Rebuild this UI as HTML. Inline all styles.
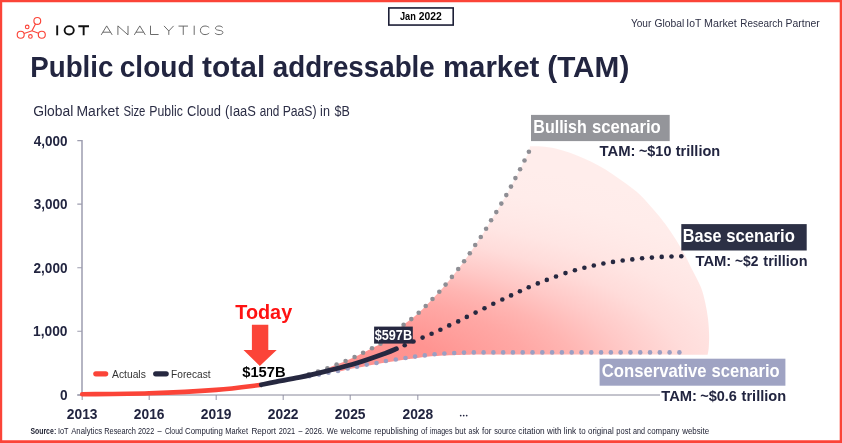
<!DOCTYPE html>
<html><head><meta charset="utf-8"><title>Public cloud TAM</title>
<style>
html,body{margin:0;padding:0;background:#fff;}
body{width:842px;height:443px;overflow:hidden;font-family:"Liberation Sans",sans-serif;}
svg{display:block;will-change:transform;}
text{font-family:"Liberation Sans",sans-serif;}
.b{font-weight:bold;}
</style></head><body>
<svg width="842" height="443" viewBox="0 0 842 443">
<defs>
<radialGradient id="fan" gradientUnits="userSpaceOnUse" cx="0" cy="0" r="1" gradientTransform="translate(310 378) scale(588 225)">
<stop offset="0.000" stop-color="#ff918e"/>
<stop offset="0.238" stop-color="#ff9491"/>
<stop offset="0.309" stop-color="#ff9e9b"/>
<stop offset="0.386" stop-color="#ffa8a5"/>
<stop offset="0.458" stop-color="#ffb5b2"/>
<stop offset="0.547" stop-color="#ffc9c7"/>
<stop offset="0.646" stop-color="#ffdcda"/>
<stop offset="0.684" stop-color="#ffe0de"/>
<stop offset="0.730" stop-color="#ffe5e3"/>
<stop offset="0.800" stop-color="#ffe9e7"/>
<stop offset="0.880" stop-color="#ffecea"/>
<stop offset="1.000" stop-color="#ffedeb"/>
</radialGradient>
</defs>
<rect x="0" y="0" width="842" height="443" fill="#fff"/>
<!-- fan -->
<path d="M324.00,369.80 C326.10,368.93 333.00,366.07 336.60,364.60 C340.20,363.13 342.60,362.27 345.60,361.00 C348.60,359.73 351.68,358.37 354.60,357.00 C357.52,355.63 360.20,354.27 363.10,352.80 C366.00,351.33 369.10,349.70 372.00,348.20 C374.90,346.70 377.78,345.60 380.50,343.80 C383.22,342.00 385.72,339.57 388.30,337.40 C390.88,335.23 393.45,332.90 396.00,330.80 C398.55,328.70 401.05,326.75 403.60,324.80 C406.15,322.85 408.78,321.10 411.30,319.10 C413.82,317.10 416.30,314.98 418.70,312.80 C421.10,310.62 423.40,308.30 425.70,306.00 C428.00,303.70 430.23,301.37 432.50,299.00 C434.77,296.63 437.12,294.20 439.30,291.80 C441.48,289.40 443.50,287.08 445.60,284.60 C447.70,282.12 449.80,279.50 451.90,276.90 C454.00,274.30 456.17,271.62 458.20,269.00 C460.23,266.38 462.17,263.82 464.10,261.20 C466.03,258.58 467.95,256.00 469.80,253.30 C471.65,250.60 473.37,247.72 475.20,245.00 C477.03,242.28 478.98,239.70 480.80,237.00 C482.62,234.30 484.38,231.58 486.10,228.80 C487.82,226.02 489.40,223.08 491.10,220.30 C492.80,217.52 494.60,214.88 496.30,212.10 C498.00,209.32 499.63,206.43 501.30,203.60 C502.97,200.77 504.68,197.93 506.30,195.10 C507.92,192.27 509.48,189.43 511.00,186.60 C512.52,183.77 513.88,180.98 515.40,178.10 C516.92,175.22 518.58,172.23 520.10,169.30 C521.62,166.37 523.03,163.43 524.50,160.50 C525.97,157.57 527.98,154.07 528.90,151.70 C529.82,149.33 529.82,147.20 530.00,146.30 L530,146.3 C531.90,146.32 537.13,146.03 541.40,146.40 C545.67,146.77 550.85,147.43 555.60,148.50 C560.35,149.57 565.15,151.13 569.90,152.80 C574.65,154.47 579.35,156.37 584.10,158.50 C588.85,160.63 593.65,162.98 598.40,165.60 C603.15,168.22 607.85,171.10 612.60,174.20 C617.35,177.30 622.33,180.77 626.90,184.20 C631.47,187.63 635.50,190.50 640.00,194.80 C644.50,199.10 649.72,205.17 653.90,210.00 C658.08,214.83 661.35,218.72 665.10,223.80 C668.85,228.88 673.00,235.08 676.40,240.50 C679.80,245.92 682.87,251.42 685.50,256.30 C688.13,261.18 689.65,264.67 692.20,269.80 C694.75,274.93 698.62,281.58 700.80,287.10 C702.98,292.62 704.10,297.63 705.30,302.90 C706.50,308.17 707.37,313.43 708.00,318.70 C708.63,323.97 708.98,329.62 709.10,334.50 C709.22,339.38 708.95,344.62 708.70,348.00 C708.45,351.38 707.78,353.67 707.60,354.80 C689.58,354.77 634.58,354.63 600.00,354.60 C565.42,354.57 523.33,354.55 500.00,354.60 C476.67,354.65 470.95,354.67 460.00,354.90 C449.05,355.13 441.78,355.45 434.30,356.00 C426.82,356.55 419.90,357.62 415.10,358.20 C410.30,358.78 408.72,359.03 405.50,359.50 C402.28,359.97 399.07,360.48 395.80,361.00 C392.53,361.52 389.12,362.05 385.90,362.60 C382.68,363.15 379.70,363.73 376.50,364.30 C373.30,364.87 369.95,365.42 366.70,366.00 C363.45,366.58 360.17,367.22 357.00,367.80 C353.83,368.38 350.87,368.88 347.70,369.50 C344.53,370.12 341.62,371.37 338.00,371.50 C334.38,371.63 328.00,370.50 326.00,370.30 Z" fill="url(#fan)"/>
<!-- axes -->
<g stroke="#9d9daf" stroke-width="1.5" fill="none">
<path d="M82,140 V395"/>
</g>
<g stroke="#9d9daf" stroke-width="1.1" fill="none">
<path d="M77.3,140.6 H82 M77.3,204.1 H82 M77.3,267.7 H82 M77.3,331.2 H82 M77.3,395 H82"/>
<path d="M82.2,395 V400 M149.2,395 V400 M216.2,395 V400 M283.2,395 V400 M350.2,395 V400 M417.8,395 V400"/>
</g>
<path d="M77.3,395 H700" stroke="#88889a" stroke-width="1" fill="none"/>
<!-- dotted curves -->
<circle cx="309.30" cy="376.30" r="2.3" fill="#9a9fc3"/>
<circle cx="319.00" cy="374.60" r="2.3" fill="#9a9fc3"/>
<circle cx="328.50" cy="372.80" r="2.3" fill="#9a9fc3"/>
<circle cx="338.00" cy="370.90" r="2.3" fill="#9a9fc3"/>
<circle cx="347.70" cy="368.50" r="2.3" fill="#9a9fc3"/>
<circle cx="357.00" cy="366.80" r="2.3" fill="#9a9fc3"/>
<circle cx="366.70" cy="364.60" r="2.3" fill="#9a9fc3"/>
<circle cx="376.50" cy="363.00" r="2.3" fill="#9a9fc3"/>
<circle cx="385.90" cy="361.00" r="2.3" fill="#9a9fc3"/>
<circle cx="395.80" cy="359.50" r="2.3" fill="#9a9fc3"/>
<circle cx="405.50" cy="358.00" r="2.3" fill="#9a9fc3"/>
<circle cx="415.10" cy="356.60" r="2.3" fill="#9a9fc3"/>
<circle cx="424.80" cy="355.40" r="2.3" fill="#9a9fc3"/>
<circle cx="434.60" cy="354.20" r="2.3" fill="#9a9fc3"/>
<circle cx="444.40" cy="353.50" r="2.3" fill="#9a9fc3"/>
<circle cx="454.20" cy="353.00" r="2.3" fill="#9a9fc3"/>
<circle cx="464.00" cy="352.60" r="2.3" fill="#9a9fc3"/>
<circle cx="473.80" cy="352.40" r="2.3" fill="#9a9fc3"/>
<circle cx="483.59" cy="352.40" r="2.3" fill="#9a9fc3"/>
<circle cx="493.38" cy="352.40" r="2.3" fill="#9a9fc3"/>
<circle cx="503.17" cy="352.40" r="2.3" fill="#9a9fc3"/>
<circle cx="512.96" cy="352.40" r="2.3" fill="#9a9fc3"/>
<circle cx="522.75" cy="352.40" r="2.3" fill="#9a9fc3"/>
<circle cx="532.54" cy="352.40" r="2.3" fill="#9a9fc3"/>
<circle cx="542.33" cy="352.40" r="2.3" fill="#9a9fc3"/>
<circle cx="552.12" cy="352.40" r="2.3" fill="#9a9fc3"/>
<circle cx="561.91" cy="352.40" r="2.3" fill="#9a9fc3"/>
<circle cx="571.70" cy="352.40" r="2.3" fill="#9a9fc3"/>
<circle cx="581.49" cy="352.40" r="2.3" fill="#9a9fc3"/>
<circle cx="591.28" cy="352.40" r="2.3" fill="#9a9fc3"/>
<circle cx="601.07" cy="352.40" r="2.3" fill="#9a9fc3"/>
<circle cx="610.86" cy="352.40" r="2.3" fill="#9a9fc3"/>
<circle cx="620.65" cy="352.40" r="2.3" fill="#9a9fc3"/>
<circle cx="630.44" cy="352.40" r="2.3" fill="#9a9fc3"/>
<circle cx="640.23" cy="352.40" r="2.3" fill="#9a9fc3"/>
<circle cx="650.02" cy="352.40" r="2.3" fill="#9a9fc3"/>
<circle cx="659.81" cy="352.40" r="2.3" fill="#9a9fc3"/>
<circle cx="669.60" cy="352.40" r="2.3" fill="#9a9fc3"/>
<circle cx="679.39" cy="352.40" r="2.3" fill="#9a9fc3"/>
<circle cx="528.90" cy="151.70" r="2.3" fill="#8e8e94"/>
<circle cx="524.50" cy="160.50" r="2.3" fill="#8e8e94"/>
<circle cx="520.10" cy="169.30" r="2.3" fill="#8e8e94"/>
<circle cx="515.40" cy="178.10" r="2.3" fill="#8e8e94"/>
<circle cx="511.00" cy="186.60" r="2.3" fill="#8e8e94"/>
<circle cx="506.30" cy="195.10" r="2.3" fill="#8e8e94"/>
<circle cx="501.30" cy="203.60" r="2.3" fill="#8e8e94"/>
<circle cx="496.30" cy="212.10" r="2.3" fill="#8e8e94"/>
<circle cx="491.10" cy="220.30" r="2.3" fill="#8e8e94"/>
<circle cx="486.10" cy="228.80" r="2.3" fill="#8e8e94"/>
<circle cx="480.80" cy="237.00" r="2.3" fill="#8e8e94"/>
<circle cx="475.20" cy="245.00" r="2.3" fill="#8e8e94"/>
<circle cx="469.80" cy="253.30" r="2.3" fill="#8e8e94"/>
<circle cx="464.10" cy="261.20" r="2.3" fill="#8e8e94"/>
<circle cx="458.20" cy="269.00" r="2.3" fill="#8e8e94"/>
<circle cx="451.90" cy="276.90" r="2.3" fill="#8e8e94"/>
<circle cx="445.60" cy="284.60" r="2.3" fill="#8e8e94"/>
<circle cx="439.30" cy="291.80" r="2.3" fill="#8e8e94"/>
<circle cx="432.50" cy="299.00" r="2.3" fill="#8e8e94"/>
<circle cx="425.70" cy="306.00" r="2.3" fill="#8e8e94"/>
<circle cx="418.70" cy="312.80" r="2.3" fill="#8e8e94"/>
<circle cx="411.30" cy="319.10" r="2.3" fill="#8e8e94"/>
<circle cx="403.60" cy="324.80" r="2.3" fill="#8e8e94"/>
<circle cx="396.00" cy="330.80" r="2.3" fill="#8e8e94"/>
<circle cx="388.30" cy="337.40" r="2.3" fill="#8e8e94"/>
<circle cx="380.50" cy="343.80" r="2.3" fill="#8e8e94"/>
<circle cx="372.00" cy="348.20" r="2.3" fill="#8e8e94"/>
<circle cx="363.10" cy="352.80" r="2.3" fill="#8e8e94"/>
<circle cx="354.60" cy="357.00" r="2.3" fill="#8e8e94"/>
<circle cx="345.60" cy="361.00" r="2.3" fill="#8e8e94"/>
<circle cx="336.60" cy="364.60" r="2.3" fill="#8e8e94"/>
<circle cx="327.40" cy="368.20" r="2.3" fill="#8e8e94"/>
<circle cx="318.00" cy="371.60" r="2.3" fill="#8e8e94"/>
<circle cx="308.80" cy="374.40" r="2.3" fill="#8e8e94"/>
<circle cx="404.70" cy="345.30" r="2.3" fill="#262840"/>
<circle cx="413.50" cy="341.50" r="2.3" fill="#262840"/>
<circle cx="422.60" cy="337.60" r="2.3" fill="#262840"/>
<circle cx="431.60" cy="333.80" r="2.3" fill="#262840"/>
<circle cx="440.40" cy="329.70" r="2.3" fill="#262840"/>
<circle cx="449.20" cy="325.40" r="2.3" fill="#262840"/>
<circle cx="458.20" cy="321.40" r="2.3" fill="#262840"/>
<circle cx="466.80" cy="316.90" r="2.3" fill="#262840"/>
<circle cx="475.60" cy="312.60" r="2.3" fill="#262840"/>
<circle cx="484.50" cy="308.30" r="2.3" fill="#262840"/>
<circle cx="493.30" cy="303.80" r="2.3" fill="#262840"/>
<circle cx="502.30" cy="299.50" r="2.3" fill="#262840"/>
<circle cx="511.10" cy="295.40" r="2.3" fill="#262840"/>
<circle cx="519.90" cy="291.30" r="2.3" fill="#262840"/>
<circle cx="528.70" cy="287.30" r="2.3" fill="#262840"/>
<circle cx="537.80" cy="283.40" r="2.3" fill="#262840"/>
<circle cx="546.80" cy="279.90" r="2.3" fill="#262840"/>
<circle cx="556.00" cy="276.50" r="2.3" fill="#262840"/>
<circle cx="565.50" cy="273.10" r="2.3" fill="#262840"/>
<circle cx="574.90" cy="270.30" r="2.3" fill="#262840"/>
<circle cx="584.40" cy="267.80" r="2.3" fill="#262840"/>
<circle cx="593.80" cy="265.50" r="2.3" fill="#262840"/>
<circle cx="603.40" cy="263.50" r="2.3" fill="#262840"/>
<circle cx="613.00" cy="261.90" r="2.3" fill="#262840"/>
<circle cx="622.70" cy="260.50" r="2.3" fill="#262840"/>
<circle cx="632.30" cy="259.40" r="2.3" fill="#262840"/>
<circle cx="642.10" cy="258.30" r="2.3" fill="#262840"/>
<circle cx="651.90" cy="257.60" r="2.3" fill="#262840"/>
<circle cx="661.70" cy="256.90" r="2.3" fill="#262840"/>
<circle cx="671.50" cy="256.50" r="2.3" fill="#262840"/>
<circle cx="681.30" cy="256.20" r="2.3" fill="#262840"/>
<!-- solid curves -->
<path d="M82.20,394.30 C93.37,394.13 126.87,394.03 149.20,393.30 C171.53,392.57 197.73,391.28 216.20,389.90 C234.67,388.52 252.70,385.82 260.00,385.00" stroke="#fb4438" stroke-width="4.6" fill="none" stroke-linecap="round"/>
<path d="M261.30,384.80 C263.68,384.30 269.25,383.03 275.60,381.80 C281.95,380.57 290.58,379.27 299.40,377.40 C308.22,375.53 318.90,373.00 328.50,370.60 C338.10,368.20 347.50,365.90 357.00,363.00 C366.50,360.10 378.93,355.57 385.50,353.20 C392.07,350.83 394.58,349.53 396.40,348.80" stroke="#262840" stroke-width="4.8" fill="none" stroke-linecap="round"/>
<!-- ellipsis -->
<circle cx="460.7" cy="415.6" r="0.85" fill="#222540"/><circle cx="463.7" cy="415.6" r="0.85" fill="#222540"/><circle cx="466.7" cy="415.6" r="0.85" fill="#222540"/>
<!-- legend -->
<path d="M95.8,373.8 H105.7" stroke="#fb4438" stroke-width="5.2" stroke-linecap="round"/>
<path d="M155.7,373.8 H166.2" stroke="#262840" stroke-width="5.2" stroke-linecap="round"/>
<!-- today -->
<path d="M251.9,324.8 H268.3 V350.1 H276.7 L259.8,366 L243.5,350.1 H251.9 Z" fill="#fb4438"/>
<!-- 597 -->
<rect x="374.1" y="326.6" width="38.7" height="17" fill="#262840"/>
<!-- scenario labels -->
<rect x="531" y="114.9" width="138.7" height="26.2" fill="#94959a"/>
<rect x="681.3" y="224.1" width="125.4" height="26.4" fill="#2c3045"/>
<rect x="599.6" y="358.7" width="185.8" height="27" fill="#9fa3c3"/>
<rect x="660" y="388" width="127" height="15" fill="#fff"/>
<!-- header -->
<g stroke="#fb4438" stroke-width="1.15" fill="none">
<circle cx="37.3" cy="20.9" r="3.4"/><circle cx="20.7" cy="34.7" r="3.5"/><circle cx="41.8" cy="34.7" r="3.5"/>
<circle cx="27.2" cy="26.9" r="1.8"/><circle cx="30.4" cy="36.4" r="1.8"/>
<path d="M35.5,24 L32,30.8 M24.1,33.5 L32,30.8 L38.5,33.3"/>
</g>
<g stroke="#111" stroke-width="1.9" fill="none">
<path d="M57.2,25.4 V35.3"/>
<ellipse cx="69.2" cy="30.35" rx="4.6" ry="4.2"/>
<path d="M78.3,26.3 H89 M83.65,26.3 V35.3"/>
</g>
<g stroke="#5a5a5a" stroke-width="0.9" fill="none" stroke-linejoin="miter">
<path d="M101.2,34.9 L106.7,25.9 L112.2,34.9 M102.9,32.2 H110.5"/>
<path d="M117.9,34.9 V25.9 L128,34.9 V25.9"/>
<path d="M134.3,34.9 L139.8,25.9 L145.3,34.9 M136,32.2 H143.6"/>
<path d="M150.5,25.7 V34.5 H158.6"/>
<path d="M164,25.9 L168.8,31 L173.6,25.9 M168.8,31 V34.9"/>
<path d="M178.5,26.1 H188 M183.25,26.1 V34.9"/>
<path d="M194.2,25.7 V34.9"/>
<path d="M209.2,27.6 C208,26.5 206.6,26 205,26 C202.1,26 200.4,27.9 200.4,30.3 C200.4,32.7 202.1,34.6 205,34.6 C206.6,34.6 208,34.1 209.2,33"/>
<path d="M222.7,27.5 C221.8,26.5 220.5,26 219,26 C216.9,26 215.5,26.9 215.5,28.2 C215.5,29.6 216.9,30 219,30.3 C221.4,30.6 222.9,31.1 222.9,32.5 C222.9,33.8 221.3,34.6 219.1,34.6 C217.4,34.6 215.9,34.1 214.9,33"/>
</g>
<rect x="388.8" y="7.95" width="64.4" height="17.1" fill="#fff" stroke="#1c1e36" stroke-width="1.6"/>
<!-- footer -->
<!-- text -->
<text x="30.29" y="76.90" font-size="29" class="b" fill="#222540" textLength="83.08" lengthAdjust="spacingAndGlyphs">Public</text>
<text x="119.73" y="76.90" font-size="29" class="b" fill="#222540" textLength="74.96" lengthAdjust="spacingAndGlyphs">cloud</text>
<text x="202.14" y="76.90" font-size="29" class="b" fill="#222540" textLength="63.09" lengthAdjust="spacingAndGlyphs">total</text>
<text x="272.78" y="76.90" font-size="29" class="b" fill="#222540" textLength="161.99" lengthAdjust="spacingAndGlyphs">addressable</text>
<text x="442.98" y="76.90" font-size="29" class="b" fill="#222540" textLength="96.30" lengthAdjust="spacingAndGlyphs">market</text>
<text x="547.26" y="76.90" font-size="29" class="b" fill="#222540" textLength="82.06" lengthAdjust="spacingAndGlyphs">(TAM)</text>
<text x="33.16" y="116.00" font-size="14" fill="#2b2d45" textLength="40.10" lengthAdjust="spacingAndGlyphs">Global</text>
<text x="76.50" y="116.00" font-size="14" fill="#2b2d45" textLength="42.64" lengthAdjust="spacingAndGlyphs">Market</text>
<text x="123.39" y="116.00" font-size="14" fill="#2b2d45" textLength="22.00" lengthAdjust="spacingAndGlyphs">Size</text>
<text x="149.32" y="116.00" font-size="14" fill="#2b2d45" textLength="33.52" lengthAdjust="spacingAndGlyphs">Public</text>
<text x="187.11" y="116.00" font-size="14" fill="#2b2d45" textLength="33.77" lengthAdjust="spacingAndGlyphs">Cloud</text>
<text x="225.01" y="116.00" font-size="14" fill="#2b2d45" textLength="30.85" lengthAdjust="spacingAndGlyphs">(IaaS</text>
<text x="259.68" y="116.00" font-size="14" fill="#2b2d45" textLength="19.64" lengthAdjust="spacingAndGlyphs">and</text>
<text x="282.63" y="116.00" font-size="14" fill="#2b2d45" textLength="33.98" lengthAdjust="spacingAndGlyphs">PaaS)</text>
<text x="320.10" y="116.00" font-size="14" fill="#2b2d45" textLength="9.82" lengthAdjust="spacingAndGlyphs">in</text>
<text x="334.58" y="116.00" font-size="14" fill="#2b2d45" textLength="15.28" lengthAdjust="spacingAndGlyphs">$B</text>
<text x="630.96" y="27.00" font-size="10.6" fill="#2e3045" textLength="20.39" lengthAdjust="spacingAndGlyphs">Your</text>
<text x="654.41" y="27.00" font-size="10.6" fill="#2e3045" textLength="29.79" lengthAdjust="spacingAndGlyphs">Global</text>
<text x="686.32" y="27.00" font-size="10.6" fill="#2e3045" textLength="14.98" lengthAdjust="spacingAndGlyphs">IoT</text>
<text x="704.04" y="27.00" font-size="10.6" fill="#2e3045" textLength="32.80" lengthAdjust="spacingAndGlyphs">Market</text>
<text x="740.30" y="27.00" font-size="10.6" fill="#2e3045" textLength="42.36" lengthAdjust="spacingAndGlyphs">Research</text>
<text x="785.56" y="27.00" font-size="10.6" fill="#2e3045" textLength="34.18" lengthAdjust="spacingAndGlyphs">Partner</text>
<text x="399.97" y="20.30" font-size="10.2" class="b" fill="#000" textLength="15.83" lengthAdjust="spacingAndGlyphs">Jan</text>
<text x="418.75" y="20.30" font-size="10.2" class="b" fill="#000" textLength="22.98" lengthAdjust="spacingAndGlyphs">2022</text>
<text x="33.77" y="145.60" font-size="14.5" class="b" fill="#222540" textLength="33.74" lengthAdjust="spacingAndGlyphs">4,000</text>
<text x="33.77" y="209.10" font-size="14.5" class="b" fill="#222540" textLength="33.74" lengthAdjust="spacingAndGlyphs">3,000</text>
<text x="33.53" y="272.70" font-size="14.5" class="b" fill="#222540" textLength="33.98" lengthAdjust="spacingAndGlyphs">2,000</text>
<text x="33.05" y="336.20" font-size="14.5" class="b" fill="#222540" textLength="34.47" lengthAdjust="spacingAndGlyphs">1,000</text>
<text x="59.93" y="399.80" font-size="14.5" class="b" fill="#222540" textLength="7.62" lengthAdjust="spacingAndGlyphs">0</text>
<text x="66.81" y="418.70" font-size="14" class="b" fill="#222540" textLength="30.69" lengthAdjust="spacingAndGlyphs">2013</text>
<text x="133.81" y="418.70" font-size="14" class="b" fill="#222540" textLength="30.69" lengthAdjust="spacingAndGlyphs">2016</text>
<text x="200.81" y="418.70" font-size="14" class="b" fill="#222540" textLength="30.69" lengthAdjust="spacingAndGlyphs">2019</text>
<text x="267.81" y="418.70" font-size="14" class="b" fill="#222540" textLength="30.69" lengthAdjust="spacingAndGlyphs">2022</text>
<text x="334.81" y="418.70" font-size="14" class="b" fill="#222540" textLength="30.69" lengthAdjust="spacingAndGlyphs">2025</text>
<text x="402.51" y="418.70" font-size="14" class="b" fill="#222540" textLength="30.69" lengthAdjust="spacingAndGlyphs">2028</text>
<text x="112.00" y="378.00" font-size="11" fill="#333" textLength="33.81" lengthAdjust="spacingAndGlyphs">Actuals</text>
<text x="171.08" y="378.00" font-size="11" fill="#333" textLength="39.47" lengthAdjust="spacingAndGlyphs">Forecast</text>
<text x="235.25" y="318.90" font-size="20" class="b" fill="#ff1212" textLength="56.92" lengthAdjust="spacingAndGlyphs">Today</text>
<text x="242.25" y="377.10" font-size="15" class="b" fill="#000" textLength="43.33" lengthAdjust="spacingAndGlyphs">$157B</text>
<text x="374.68" y="340.20" font-size="14.6" class="b" fill="#fff" textLength="37.38" lengthAdjust="spacingAndGlyphs">$597B</text>
<text x="533.32" y="133.00" font-size="18.5" class="b" fill="#fff" textLength="53.50" lengthAdjust="spacingAndGlyphs">Bullish</text>
<text x="591.92" y="133.00" font-size="18.5" class="b" fill="#fff" textLength="68.93" lengthAdjust="spacingAndGlyphs">scenario</text>
<text x="599.46" y="155.50" font-size="15.5" class="b" fill="#222540" textLength="36.03" lengthAdjust="spacingAndGlyphs">TAM:</text>
<text x="638.93" y="155.50" font-size="15.5" class="b" fill="#222540" textLength="32.49" lengthAdjust="spacingAndGlyphs">~$10</text>
<text x="675.77" y="155.50" font-size="15.5" class="b" fill="#222540" textLength="44.44" lengthAdjust="spacingAndGlyphs">trillion</text>
<text x="682.81" y="242.10" font-size="18.5" class="b" fill="#fff" textLength="38.74" lengthAdjust="spacingAndGlyphs">Base</text>
<text x="726.22" y="242.10" font-size="18.5" class="b" fill="#fff" textLength="68.63" lengthAdjust="spacingAndGlyphs">scenario</text>
<text x="695.46" y="266.00" font-size="15.5" class="b" fill="#222540" textLength="35.82" lengthAdjust="spacingAndGlyphs">TAM:</text>
<text x="735.05" y="266.00" font-size="15.5" class="b" fill="#222540" textLength="23.43" lengthAdjust="spacingAndGlyphs">~$2</text>
<text x="763.37" y="266.00" font-size="15.5" class="b" fill="#222540" textLength="44.13" lengthAdjust="spacingAndGlyphs">trillion</text>
<text x="601.72" y="377.30" font-size="18.5" class="b" fill="#fff" textLength="104.91" lengthAdjust="spacingAndGlyphs">Conservative</text>
<text x="711.53" y="377.30" font-size="18.5" class="b" fill="#fff" textLength="68.12" lengthAdjust="spacingAndGlyphs">scenario</text>
<text x="661.26" y="400.80" font-size="15.5" class="b" fill="#222540" textLength="35.71" lengthAdjust="spacingAndGlyphs">TAM:</text>
<text x="700.23" y="400.80" font-size="15.5" class="b" fill="#222540" textLength="36.72" lengthAdjust="spacingAndGlyphs">~$0.6</text>
<text x="741.56" y="400.80" font-size="15.5" class="b" fill="#222540" textLength="44.65" lengthAdjust="spacingAndGlyphs">trillion</text>
<text x="30.51" y="433.70" font-size="8.8" class="b" fill="#1d1f30" textLength="23.25" lengthAdjust="spacingAndGlyphs">Source</text>
<text x="53.70" y="433.70" font-size="8.8" fill="#202234" textLength="2.94" lengthAdjust="spacingAndGlyphs">:</text>
<text x="57.98" y="433.70" font-size="8.8" fill="#202234" textLength="10.50" lengthAdjust="spacingAndGlyphs">IoT</text>
<text x="71.20" y="433.70" font-size="8.8" fill="#202234" textLength="30.98" lengthAdjust="spacingAndGlyphs">Analytics</text>
<text x="104.17" y="433.70" font-size="8.8" fill="#202234" textLength="31.78" lengthAdjust="spacingAndGlyphs">Research</text>
<text x="138.09" y="433.70" font-size="8.8" fill="#202234" textLength="16.08" lengthAdjust="spacingAndGlyphs">2022</text>
<text x="157.60" y="433.70" font-size="8.8" fill="#202234" textLength="4.12" lengthAdjust="spacingAndGlyphs">–</text>
<text x="164.91" y="433.70" font-size="8.8" fill="#202234" textLength="17.88" lengthAdjust="spacingAndGlyphs">Cloud</text>
<text x="185.06" y="433.70" font-size="8.8" fill="#202234" textLength="37.73" lengthAdjust="spacingAndGlyphs">Computing</text>
<text x="225.37" y="433.70" font-size="8.8" fill="#202234" textLength="22.65" lengthAdjust="spacingAndGlyphs">Market</text>
<text x="251.40" y="433.70" font-size="8.8" fill="#202234" textLength="24.54" lengthAdjust="spacingAndGlyphs">Report</text>
<text x="278.78" y="433.70" font-size="8.8" fill="#202234" textLength="16.39" lengthAdjust="spacingAndGlyphs">2021</text>
<text x="298.60" y="433.70" font-size="8.8" fill="#202234" textLength="3.93" lengthAdjust="spacingAndGlyphs">–</text>
<text x="304.97" y="433.70" font-size="8.8" fill="#202234" textLength="19.10" lengthAdjust="spacingAndGlyphs">2026.</text>
<text x="326.80" y="433.70" font-size="8.8" fill="#202234" textLength="11.05" lengthAdjust="spacingAndGlyphs">We</text>
<text x="340.50" y="433.70" font-size="8.8" fill="#202234" textLength="31.22" lengthAdjust="spacingAndGlyphs">welcome</text>
<text x="374.23" y="433.70" font-size="8.8" fill="#202234" textLength="44.19" lengthAdjust="spacingAndGlyphs">republishing</text>
<text x="420.99" y="433.70" font-size="8.8" fill="#202234" textLength="6.28" lengthAdjust="spacingAndGlyphs">of</text>
<text x="429.90" y="433.70" font-size="8.8" fill="#202234" textLength="22.58" lengthAdjust="spacingAndGlyphs">images</text>
<text x="454.95" y="433.70" font-size="8.8" fill="#202234" textLength="10.93" lengthAdjust="spacingAndGlyphs">but</text>
<text x="468.61" y="433.70" font-size="8.8" fill="#202234" textLength="10.66" lengthAdjust="spacingAndGlyphs">ask</text>
<text x="482.10" y="433.70" font-size="8.8" fill="#202234" textLength="9.43" lengthAdjust="spacingAndGlyphs">for</text>
<text x="494.19" y="433.70" font-size="8.8" fill="#202234" textLength="21.95" lengthAdjust="spacingAndGlyphs">source</text>
<text x="518.36" y="433.70" font-size="8.8" fill="#202234" textLength="26.29" lengthAdjust="spacingAndGlyphs">citation</text>
<text x="547.10" y="433.70" font-size="8.8" fill="#202234" textLength="14.37" lengthAdjust="spacingAndGlyphs">with</text>
<text x="563.73" y="433.70" font-size="8.8" fill="#202234" textLength="12.43" lengthAdjust="spacingAndGlyphs">link</text>
<text x="579.00" y="433.70" font-size="8.8" fill="#202234" textLength="6.61" lengthAdjust="spacingAndGlyphs">to</text>
<text x="587.97" y="433.70" font-size="8.8" fill="#202234" textLength="25.80" lengthAdjust="spacingAndGlyphs">original</text>
<text x="616.27" y="433.70" font-size="8.8" fill="#202234" textLength="14.25" lengthAdjust="spacingAndGlyphs">post</text>
<text x="633.00" y="433.70" font-size="8.8" fill="#202234" textLength="11.96" lengthAdjust="spacingAndGlyphs">and</text>
<text x="647.28" y="433.70" font-size="8.8" fill="#202234" textLength="32.08" lengthAdjust="spacingAndGlyphs">company</text>
<text x="682.20" y="433.70" font-size="8.8" fill="#202234" textLength="26.90" lengthAdjust="spacingAndGlyphs">website</text>
<!-- border -->
<path d="M0,0 H842 V443 H0 Z M2.2,2.2 V440.2 H839.7 V2.2 Z" fill="#fb4438" fill-rule="evenodd"/>
</svg>
</body></html>
